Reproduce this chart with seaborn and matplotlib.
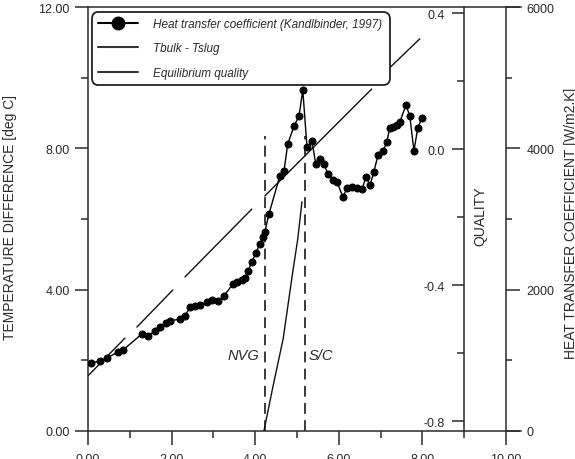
import numpy as np
import pandas as pd
import matplotlib.pyplot as plt
from matplotlib.lines import Line2D
import seaborn as sns

sns.set_theme(style="white")
plt.rcParams['font.family'] = ['Liberation Sans', 'DejaVu Sans']
plt.rcParams['axes.unicode_minus'] = False

ink = '#2b2b2b'

# heat transfer coefficient (Kandlbinder, 1997) [W/m2.K] vs position
htc_x = [0.07, 0.29, 0.45, 0.72, 0.84, 1.29, 1.44, 1.60, 1.72, 1.87,
         1.96, 2.20, 2.32, 2.44, 2.56, 2.68, 2.85, 2.97, 3.11, 3.25,
         3.47, 3.56, 3.68, 3.76, 3.83, 3.92, 4.02, 4.11, 4.19, 4.23,
         4.33, 4.59, 4.69, 4.78, 4.93, 5.05, 5.14, 5.24, 5.36, 5.45,
         5.55, 5.65, 5.74, 5.86, 5.96, 6.10, 6.20, 6.32, 6.44, 6.56,
         6.65, 6.75, 6.84, 6.94, 7.06, 7.15, 7.22, 7.30, 7.39, 7.46,
         7.61, 7.70, 7.80, 7.89, 7.99]
htc_val = [962, 991, 1033, 1118, 1146, 1373, 1344, 1415, 1472, 1528,
           1557, 1585, 1627, 1755, 1769, 1783, 1825, 1854, 1840, 1910,
           2080, 2108, 2137, 2165, 2264, 2391, 2519, 2646, 2745, 2816,
           3071, 3608, 3679, 4061, 4316, 4457, 4825, 4019, 4104, 3778,
           3849, 3778, 3637, 3552, 3523, 3311, 3438, 3453, 3438, 3424,
           3594, 3481, 3665, 3905, 3962, 4089, 4287, 4302, 4330, 4372,
           4613, 4457, 3962, 4287, 4429]

# Tbulk - Tslug [deg C], drawn in separate pieces
tb_piece = [0, 0, 1, 1, 2, 2, 3, 3, 4, 4]
tb_x = [0.00, 0.885, 1.17, 2.03, 2.32, 3.92, 4.23, 6.79, 7.06, 7.94]
tb_y = [1.56, 2.63, 2.94, 3.99, 4.36, 6.28, 6.65, 9.68, 10.10, 11.10]

# equilibrium quality
q_x = [4.21, 4.43, 4.67, 4.90, 5.02, 5.12]
q_val = [-0.828, -0.695, -0.557, -0.360, -0.263, -0.154]

nvg_x = 4.23
sc_x = 5.19
mark_top = 8.35

fig = plt.figure(figsize=(5.75, 4.6), dpi=100)
ax = fig.add_axes([0.1530, 0.0609, 0.7530, 0.9217])
ax2 = ax.twinx()
ax3 = ax.twinx()

# temperature difference axis
tb = pd.DataFrame({'x': tb_x, 'y': tb_y, 'piece': tb_piece})
sns.lineplot(data=tb, x='x', y='y', units='piece', estimator=None,
             color='#111111', linewidth=1.0, ax=ax)
for xv in [nvg_x, sc_x]:
    ax.plot([xv, xv], [0, mark_top], color=ink, lw=1.3, ls=(0, (6, 3.5)))
ax.text(4.11, 2.15, 'NVG', ha='right', va='center', fontsize=10.5,
        style='italic', color=ink)
ax.text(5.27, 2.15, 'S/C', ha='left', va='center', fontsize=10.5,
        style='italic', color=ink)

ax.set_xlim(0, 10.36)
ax.set_ylim(0, 12)
ax.set_xticks(np.arange(0, 11, 2))
ax.set_xticks(np.arange(1, 10, 2), minor=True)
ax.set_yticks([0, 4, 8, 12])
ax.set_yticks([2, 6, 10], minor=True)
ax.xaxis.set_major_formatter('{x:.2f}')
ax.yaxis.set_major_formatter('{x:.2f}')
ax.set_xlabel('')
ax.set_ylabel('')
ax.spines['right'].set_visible(False)
for s in ['left', 'bottom', 'top']:
    ax.spines[s].set_color(ink)
    ax.spines[s].set_linewidth(1.1)
ax.tick_params(which='both', direction='out', color=ink, width=1.1,
               labelcolor=ink, labelsize=9, left=True, bottom=True)
ax.tick_params(axis='y', which='major', length=9.5, pad=3.5)
ax.tick_params(axis='y', which='minor', length=5)
ax.tick_params(axis='x', which='major', length=10, pad=5.5)
ax.tick_params(axis='x', which='minor', length=5)

# quality axis
sns.lineplot(x=q_x, y=q_val, color='#111111', linewidth=1.0, ax=ax2)
ax2.set_ylim(-0.828, 0.419)
ax2.yaxis.tick_left()
ax2.spines['left'].set_position(('data', 9.0))
for s in ['right', 'top', 'bottom']:
    ax2.spines[s].set_visible(False)
ax2.spines['left'].set_visible(True)
ax2.spines['left'].set_color(ink)
ax2.spines['left'].set_linewidth(1.1)
ax2.set_yticks([-0.8, -0.4, 0.0, 0.4])
ax2.set_yticks([-0.6, -0.2, 0.2], minor=True)
ax2.yaxis.set_major_formatter('{x:.1f}')
ax2.set_ylabel('')
ax2.tick_params(axis='y', which='both', direction='out', color=ink, width=1.1,
                labelcolor=ink, labelsize=9, pad=5)
ax2.tick_params(axis='y', which='major', length=9)
ax2.tick_params(axis='y', which='minor', length=5)
ax.text(0.9065, 0.509, 'QUALITY', transform=ax.transAxes, rotation=90,
        ha='center', va='center', fontsize=10, color=ink)

# heat transfer coefficient axis
sns.lineplot(x=htc_x, y=htc_val, color='black', linewidth=1.0, marker='o',
             markersize=5, markeredgecolor='black', ax=ax3)
ax3.set_ylim(0, 6000)
ax3.spines['right'].set_position(('data', 10.0))
for s in ['left', 'top', 'bottom']:
    ax3.spines[s].set_visible(False)
ax3.spines['right'].set_color(ink)
ax3.spines['right'].set_linewidth(1.1)
ax3.set_yticks([0, 2000, 4000, 6000])
ax3.set_yticks([1000, 3000, 5000], minor=True)
ax3.set_ylabel('')
ax3.tick_params(axis='y', which='both', direction='out', color=ink, width=1.1,
                labelcolor=ink, labelsize=9, pad=5)
ax3.tick_params(axis='y', which='major', length=10)
ax3.tick_params(axis='y', which='minor', length=4.5)

fig.text(10 / 575, 1 - 217 / 460, 'TEMPERATURE DIFFERENCE [deg C]',
         rotation=90, ha='center', va='center', fontsize=10, color=ink)
fig.text(571 / 575, 1 - 223 / 460, 'HEAT TRANSFER COEFFICIENT [W/m2.K]',
         rotation=90, ha='center', va='center', fontsize=10, color=ink)

handles = [
    Line2D([], [], color='black', lw=1.5, marker='o', markersize=9),
    Line2D([], [], color='#333333', lw=1.5),
    Line2D([], [], color='#333333', lw=1.5),
]
labels = ['Heat transfer coefficient (Kandlbinder, 1997)', 'Tbulk - Tslug',
          'Equilibrium quality']
leg = ax3.legend(handles, labels, loc='upper left',
                 bbox_to_anchor=(0.0092, 0.821, 0.688, 0.167), mode='expand',
                 borderaxespad=0, fancybox=True, framealpha=1,
                 edgecolor='#222222', prop={'size': 8.5, 'style': 'italic'},
                 handlelength=3.4, handletextpad=1.27, labelspacing=1.05,
                 borderpad=0.5, labelcolor=ink)
leg.get_frame().set_linewidth(1.3)
leg.get_frame().set_boxstyle('round', pad=0, rounding_size=0.55)

fig.savefig('out.png', dpi=100)
